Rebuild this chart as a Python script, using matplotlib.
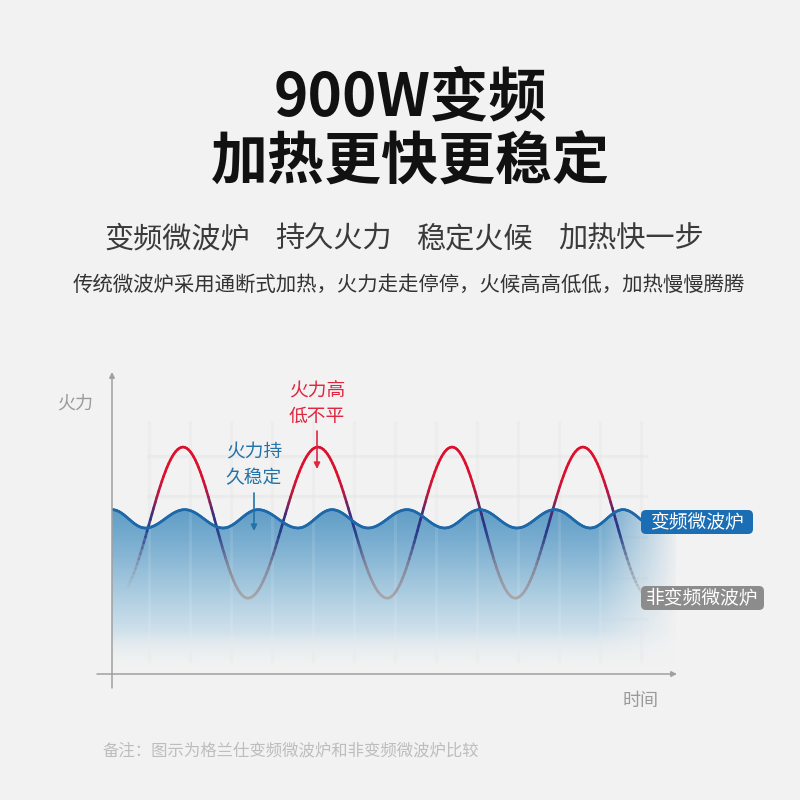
import numpy as np
import matplotlib
matplotlib.use("Agg")
import matplotlib.pyplot as plt
from matplotlib.path import Path
from matplotlib.patches import PathPatch, FancyBboxPatch
from matplotlib.collections import LineCollection
from matplotlib.colors import LinearSegmentedColormap, to_rgb

plt.rcParams['font.family'] = ['Noto Sans CJK SC', 'DejaVu Sans']

# ---- data (time 0-100, power 0-100) ----
inverter_t = [0.0, 5.9, 12.9, 19.7, 25.9, 33.0, 39.0, 45.4, 52.3, 59.0, 65.2, 71.8, 78.5, 84.8, 90.6, 96.6]
inverter_p = [54.6, 48.5, 54.6, 48.5, 54.6, 48.5, 54.6, 48.5, 54.6, 48.5, 54.6, 48.5, 54.6, 48.5, 54.6, 48.5]
normal_t = [0.7, 12.6, 24.1, 36.5, 48.8, 60.3, 71.5, 83.5, 95.4]
normal_p = [25.2, 75.4, 25.2, 75.4, 25.2, 75.4, 25.2, 75.4, 25.2]

title_lines = ["900W变频", "加热更快更稳定"]
slogans = ["变频微波炉", "持久火力", "稳定火候", "加热快一步"]
subline = "传统微波炉采用通断式加热，火力走走停停，火候高高低低，加热慢慢腾腾"
note = "备注：图示为格兰仕变频微波炉和非变频微波炉比较"
label_inv = "变频微波炉"
label_norm = "非变频微波炉"

bg = '#f2f2f2'
fig = plt.figure(figsize=(8, 8), dpi=100, facecolor=bg)

# chart axes (pixel box 112..676 x 373..674)
ax = fig.add_axes([112/800, 126/800, 564/800, 301/800])
ax.set_xlim(0, 100)
ax.set_ylim(0, 100)
ax.axis('off')
ax.patch.set_alpha(0)


def wave_path(t, p):
    verts = [(t[0], p[0])]
    codes = [Path.MOVETO]
    for i in range(1, len(t)):
        d = (t[i] - t[i-1]) * 0.3642
        verts += [(t[i-1] + d, p[i-1]), (t[i] - d, p[i]), (t[i], p[i])]
        codes += [Path.CURVE4] * 3
    return Path(verts, codes)


def flatten(path, n=40):
    pts = []
    for seg, code in path.iter_bezier():
        pts.append(seg(np.linspace(0, 1, n)))
    return np.vstack(pts)


def fade(x, a0, a1, rising=True):
    f = np.clip((x - a0) / (a1 - a0), 0, 1)
    return f if rising else 1 - f


inv_path = wave_path(inverter_t, inverter_p)
norm_path = wave_path(normal_t, normal_p)

# faint background grid
gx = np.arange(6.6, 96, 7.27)
ax.vlines(gx, 4, 84, color='#e0e0e0', lw=2.2, alpha=0.35, zorder=0)
ax.hlines([72.4, 59.1, 45.5, 31.9, 18.3], 6, 95, color='#e0e0e0', lw=2.2, alpha=0.35, zorder=0)

# gradient fill under the inverter curve
fill_verts = list(inv_path.vertices) + [(103, inverter_p[-1]), (103, 0), (0, 0), (0, inverter_p[0])]
fill_codes = list(inv_path.codes) + [Path.LINETO, Path.LINETO, Path.LINETO, Path.CLOSEPOLY]
fill_path = Path(fill_verts, fill_codes)
clip = PathPatch(fill_path, transform=ax.transData, facecolor='none', edgecolor='none')
ax.add_patch(clip)

fill_cmap = LinearSegmentedColormap.from_list('fill', [
    (0.0, '#eef1f3'), (0.10, '#dbe7ee'), (0.25, '#b0cfe2'),
    (0.42, '#7fb1d2'), (0.58, '#5898c3'), (1.0, '#5898c3')])
H, W = 200, 300
yy = np.linspace(0, 100, H)[:, None]
xx = np.linspace(0, 103, W)[None, :]
img = fill_cmap(np.repeat(yy / 100, W, axis=1))
alpha = fade(xx, 86, 101, rising=False) * fade(yy, 2, 14)
img[..., 3] = np.broadcast_to(alpha, (H, W))
im = ax.imshow(img, extent=(0, 103, 0, 100), origin='lower', aspect='auto', zorder=1, interpolation='bilinear')
im.set_clip_path(clip)

# soft light grid over the fill
ax.vlines(gx, 4, 84, color='white', lw=2.2, alpha=0.1, zorder=2)

# inverter line
pts = flatten(inv_path)
segs = np.stack([pts[:-1], pts[1:]], axis=1)
mid = (pts[:-1] + pts[1:]) / 2
cols = np.tile(np.array(to_rgb('#1c68a9') + (1.0,)), (len(segs), 1))
cols[:, 3] = fade(mid[:, 0], 94, 97.5, rising=False)
ax.add_collection(LineCollection(segs, colors=cols, linewidths=1.9, capstyle='round', zorder=4))

# non-inverter line, coloured by height
line_cmap = LinearSegmentedColormap.from_list('heat', [
    (0.0, '#a8a8ac'), (0.25, '#a8a8ac'), (0.36, '#82879b'), (0.47, '#233c8c'),
    (0.53, '#3c2d7d'), (0.60, '#b91941'), (0.66, '#dc0f2d'), (1.0, '#e10f28')])
pts = flatten(norm_path)
segs = np.stack([pts[:-1], pts[1:]], axis=1)
mid = (pts[:-1] + pts[1:]) / 2
cols = line_cmap(mid[:, 1] / 100)
cols[:, 3] = fade(mid[:, 0], 2.5, 7.0) * fade(mid[:, 0], 90.0, 94.5, rising=False)
ax.add_collection(LineCollection(segs, colors=cols, linewidths=1.9, capstyle='round', zorder=3))

# overlay axes in pixel coordinates for text and arrows
ov = fig.add_axes([0, 0, 1, 1], zorder=5)
ov.set_xlim(0, 800)
ov.set_ylim(800, 0)
ov.axis('off')
ov.patch.set_alpha(0)

ov.text(410, 98, title_lines[0], ha='center', va='center', fontsize=42, fontweight='bold', color='#111111')
ov.text(410, 163, title_lines[1], ha='center', va='center', fontsize=41, fontweight='bold', color='#111111')

for cx, s in zip([177, 333, 474, 631], slogans):
    ov.text(cx, 240, s, ha='center', va='center', fontsize=21, fontweight='light', color='#3a3a3a')
ov.text(409, 285, subline, ha='center', va='center', fontsize=14.7, fontweight='light', color='#333333')

# axes
arrow_kw = dict(arrowstyle='-|>', color='#a0a0a0', lw=1.1, mutation_scale=8, shrinkA=0, shrinkB=0)
ov.annotate('', xy=(677, 674), xytext=(97, 674), arrowprops=arrow_kw)
ov.annotate('', xy=(112, 372), xytext=(112, 688), arrowprops=arrow_kw)
ov.text(75, 404, "火力", ha='center', va='center', fontsize=13, color='#9a9a9a')
ov.text(641, 701, "时间", ha='center', va='center', fontsize=13, color='#9a9a9a')

# callouts
ov.text(317, 403, "火力高\n低不平", ha='center', va='center', fontsize=13.5, color='#e0263f', linespacing=1.3)
ov.annotate('', xy=(317, 469), xytext=(317, 431),
            arrowprops=dict(arrowstyle='-|>', color='#e0263f', lw=1.2, mutation_scale=9, shrinkA=0, shrinkB=0))
ov.text(254, 465, "火力持\n久稳定", ha='center', va='center', fontsize=13.5, color='#2373a8', linespacing=1.3)
ov.annotate('', xy=(254, 531), xytext=(254, 493),
            arrowprops=dict(arrowstyle='-|>', color='#2373a8', lw=1.2, mutation_scale=9, shrinkA=0, shrinkB=0))

# series labels
ov.add_patch(FancyBboxPatch((641, 510), 112, 24, boxstyle='round,pad=0,rounding_size=5',
                            facecolor='#1b6eb4', edgecolor='none'))
ov.text(697, 522, label_inv, ha='center', va='center', fontsize=13.5, color='white')
ov.add_patch(FancyBboxPatch((641, 586), 123, 24, boxstyle='round,pad=0,rounding_size=5',
                            facecolor='#8c8c8c', edgecolor='none'))
ov.text(702.5, 598, label_norm, ha='center', va='center', fontsize=13.5, color='white')

ov.text(103, 751, note, ha='left', va='center', fontsize=11.8, color='#bdbdbd')

fig.savefig('out.png', dpi=100, facecolor=bg)
